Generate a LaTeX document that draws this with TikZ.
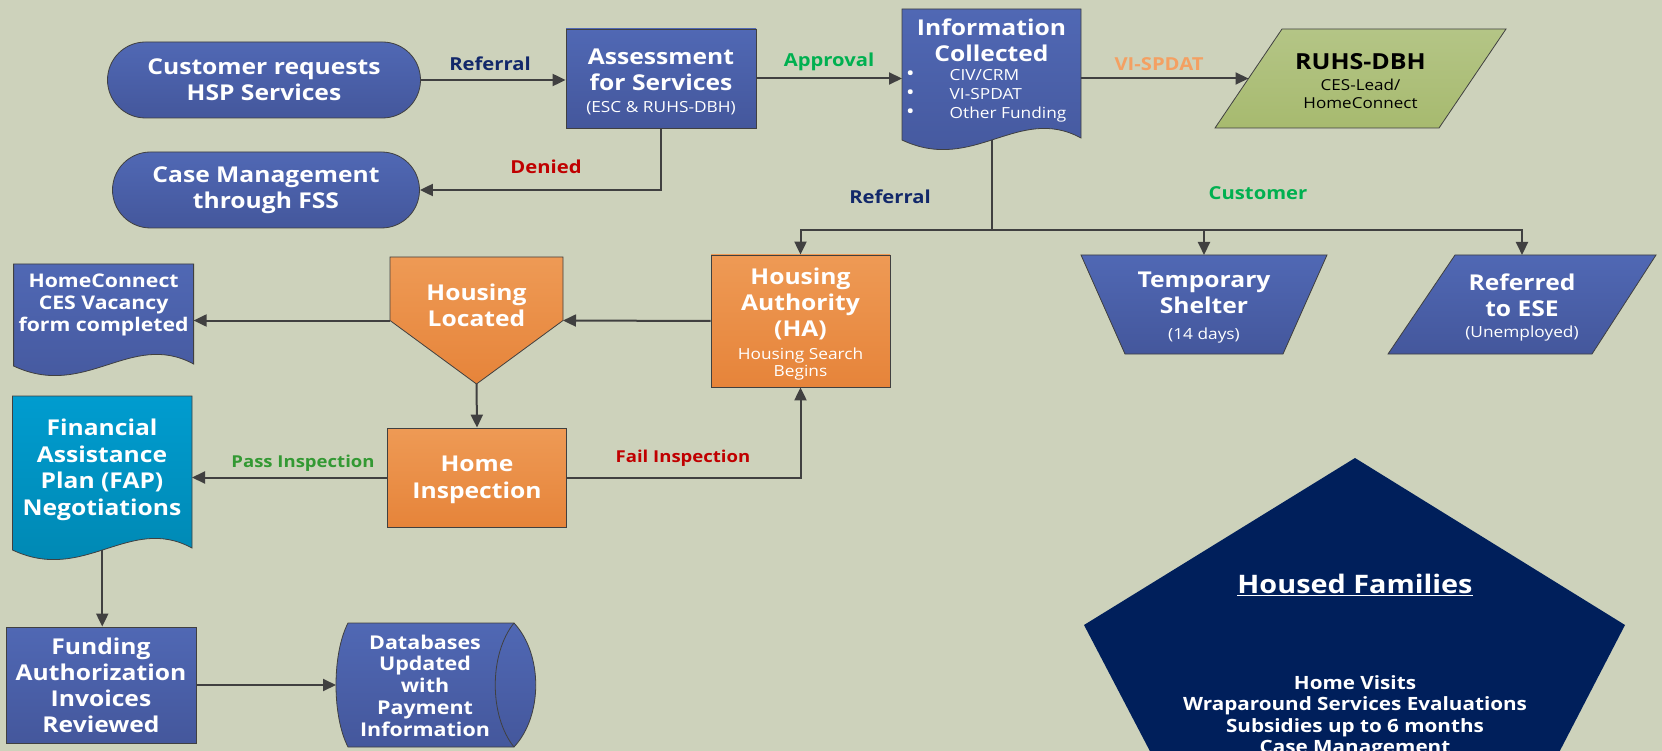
\documentclass[tikz,border=0pt]{standalone}
\usepackage{fontspec}
\setmainfont{Open Sans}[FakeStretch=1.13]
\usetikzlibrary{arrows.meta,calc}
\definecolor{bgc}{HTML}{CDD2BB}
\definecolor{blT}{HTML}{5068B4}
\definecolor{blB}{HTML}{44579C}
\definecolor{orT}{HTML}{EE9A55}
\definecolor{orB}{HTML}{E6843A}
\definecolor{grT}{HTML}{B4C586}
\definecolor{grB}{HTML}{A7BA6F}
\definecolor{cyT}{HTML}{009CCF}
\definecolor{cyB}{HTML}{0086B0}
\definecolor{navyc}{HTML}{001F5B}
\definecolor{linec}{HTML}{404040}
\definecolor{refc}{HTML}{12286A}
\definecolor{appc}{HTML}{00B050}
\definecolor{denc}{HTML}{C00000}
\definecolor{vic}{HTML}{F4A062}
\definecolor{passc}{HTML}{339933}
\newcommand\fbig{\fontsize{21.8}{26}\selectfont\bfseries}
\newcommand\fsub{\fontsize{15.3}{18}\selectfont\mdseries}
\newcommand\fmid{\fontsize{18.8}{22}\selectfont\bfseries}
\newcommand\flab{\fontsize{17.9}{21}\selectfont\bfseries}
\newcommand\fpass{\fontsize{16.4}{20}\selectfont\bfseries}
\newcommand\bigbul{\raisebox{0pt}[0pt][0pt]{\fontsize{20}{18}\selectfont\textbullet}}
\newcommand\dn[1]{\rule{0pt}{#1pt}}
\begin{document}
\begin{tikzpicture}[x=1pt,y=-1pt,
 outl/.style={draw=linec, line width=0.8pt},
 bluef/.style={top color=blT, bottom color=blB},
 oranf/.style={top color=orT, bottom color=orB},
 box/.style={outl, text=white, font=\fbig, align=center, inner sep=0pt},
 stadium/.style={box, bluef, rounded corners=38pt, minimum height=76pt},
 gnode/.style={inner sep=0pt, outer sep=0pt},
 wtxt/.style={text=white, font=\fbig, align=center, inner sep=0pt},
 lab/.style={font=\flab, inner sep=0pt},
 conn/.style={draw=linec, line width=2pt, -{Triangle[length=13pt,width=12pt]}},
 plainc/.style={draw=linec, line width=2pt},
 docwave/.style={insert path={(#1.north west) -- (#1.north east) -- ($(#1.south east)+(0,-2)$) .. controls ($(#1.south east)!0.35!(#1.south west)+(0,-36)$) and ($(#1.south west)!0.4!(#1.south east)+(0,34)$) .. (#1.south west) -- cycle}}
]
\fill[bgc] (0,0) rectangle (1662,751);
\useasboundingbox (0,0) rectangle (1662,751);

% top row
\node[stadium, minimum width=313pt] (cust) at (264,80) {Customer requests\\HSP Services};
\node[stadium, minimum width=307pt] (cm) at (266,190) {Case Management\\through FSS};
\node[box, bluef, minimum width=190pt, minimum height=99pt] (ass) at (661,78.5) {\dn{22.6}Assessment\\for Services\\[-4pt]{\fsub (ESC \& RUHS-DBH)}};

\node[gnode, minimum width=179pt, minimum height=131pt] (info) at (991.5,74.5) {};
\path[outl, bluef, docwave=info];
\node[wtxt] (infoT) at (991.5,40.5) {Information\\Collected};
\node[wtxt, font=\fontsize{15.3}{19}\selectfont\mdseries, align=left, anchor=west] (infoL) at (906,96) {\bigbul\hspace{35pt}CIV/CRM\\\bigbul\hspace{35pt}VI-SPDAT\\\bigbul\hspace{35pt}Other Funding};

\node[gnode, minimum width=291pt, minimum height=99pt] (ruhs) at (1360.5,78.5) {};
\path[outl, top color=grT, bottom color=grB] ($(ruhs.north west)+(67,0)$) -- (ruhs.north east) -- ($(ruhs.south east)+(-67,0)$) -- (ruhs.south west) -- cycle;
\node[inner sep=0pt, align=center, font=\fontsize{15.1}{18}\selectfont, text=black] (ruhsT) at (1360.5,81) {{\fontsize{22.1}{26}\selectfont\bfseries RUHS-DBH}\\[3pt]CES-Lead/\\HomeConnect};
\coordinate (ruhsW) at ($(ruhs.west)+(33.5,0)$);

% middle row
\node[gnode, minimum width=246pt, minimum height=99pt] (ts) at (1204,304.5) {};
\path[outl, bluef] (ts.north west) -- (ts.north east) -- ($(ts.south east)+(-44,0)$) -- ($(ts.south west)+(44,0)$) -- cycle;
\node[wtxt] (tsT) at (1204,308) {Temporary\\Shelter\\[0pt]{\fsub (14 days)}};

\node[gnode, minimum width=268pt, minimum height=99pt] (re) at (1522,304.5) {};
\path[outl, bluef] ($(re.north west)+(67,0)$) -- (re.north east) -- ($(re.south east)+(-64,0)$) -- (re.south west) -- cycle;
\node[wtxt] (reT) at (1522,307.5) {Referred\\to ESE\\[-5pt]{\fsub (Unemployed)}};

\node[box, oranf, minimum width=179pt, minimum height=132pt] (ha) at (800.5,321) {\dn{22}Housing\\Authority\\(HA)\\[-3pt]{\fsub Housing Search}\\[-9pt]{\fsub Begins}};

\node[gnode, minimum width=173pt, minimum height=127pt] (hl) at (476.5,320.5) {};
\path[outl, oranf] (hl.north west) -- (hl.north east) -- (hl.east) -- (hl.south) -- (hl.west) -- cycle;
\node[wtxt] (hlT) at (476.5,305) {Housing\\Located};

\node[gnode, minimum width=180pt, minimum height=102pt] (hc) at (103.6,315) {};
\path[outl, bluef, docwave=hc];
\node[wtxt, font=\fmid] (hcT) at (103.6,305) {HomeConnect\\CES Vacancy\\form completed};

\node[box, oranf, minimum width=178.5pt, minimum height=99pt, font=\fontsize{21.8}{27}\selectfont\bfseries] (hi) at (477,477.5) {\dn{21}Home\\Inspection};

\node[gnode, minimum width=179.5pt, minimum height=154pt] (fap) at (102.25,473) {};
\path[outl, top color=cyT, bottom color=cyB, docwave=fap];
\node[wtxt, font=\fontsize{21.8}{26.5}\selectfont\bfseries] (fapT) at (102,470) {Financial\\Assistance\\Plan (FAP)\\Negotiations};

% bottom
\node[box, bluef, minimum width=190pt, minimum height=116pt, font=\fontsize{21.8}{26}\selectfont\bfseries] (fund) at (101,685) {Funding\\Authorization\\Invoices\\Reviewed};

\node[gnode, minimum width=200pt, minimum height=124pt] (db) at (436,685) {};
\path[outl, bluef, shift={(db.center)}] (-88,-62) -- (78,-62) .. controls (107,-31) and (107,31) .. (78,62) -- (-88,62) .. controls (-104,31) and (-104,-31) .. (-88,-62) -- cycle;
\draw[outl, shift={(db.center)}] (78,-62) .. controls (53,-31) and (53,31) .. (78,62);
\node[wtxt, font=\fontsize{19}{21.8}\selectfont\bfseries] (dbT) at (425,685.5) {Databases\\Updated\\with\\Payment\\Information};

\begin{scope}
\clip (0,0) rectangle (1662,751);
\fill[navyc] (1355,458) -- (1625,625) -- (1522,824) -- (1188,824) -- (1084,625) -- cycle;
\end{scope}
\node[wtxt, font=\fontsize{25.5}{30}\selectfont\bfseries] (hfT) at (1355,585) {\underline{Housed Families}};
\node[wtxt, font=\fontsize{18.3}{21.5}\selectfont\bfseries] (hfL) at (1355,716.5) {Home Visits\\Wraparound Services Evaluations\\Subsidies up to 6 months\\Case Management};

% labels
\node[lab, text=refc] (l1) at (490,64) {Referral};
\node[lab, text=appc] (l2) at (829,62) {Approval};
\node[lab, text=denc] (l3) at (546,166.5) {Denied};
\node[lab, text=vic] (l4) at (1159,64) {VI-SPDAT};
\node[lab, text=refc] (l5) at (890,197) {Referral};
\node[lab, text=appc] (l6) at (1258,193) {Customer};
\node[lab, text=passc, font=\fpass] (l7) at (303,463) {Pass Inspection};
\node[lab, text=denc, font=\fpass] (l8) at (683,458) {Fail Inspection};

% connectors
\coordinate (br) at (991.5,230);
\draw[conn] (cust.east) -- (cust.east -| ass.west);
\draw[conn] (ass.east) -- (ass.east -| info.west);
\draw[conn] (ass.south) |- (cm.east);
\draw[conn] (ruhsW -| info.east) -- (ruhsW);
\draw[plainc] (info.south) -- (br);
\draw[conn] (br) -| (ha.north);
\draw[conn] (br) -| (ts.north);
\draw[conn] (br) -| (re.north);
\draw[conn] (ha.west) -- (hl.east);
\draw[conn] (hl.west) -- (hl.west -| hc.east);
\draw[conn] (hl.south) -- (hi.north);
\draw[conn] (hi.west) -- (hi.west -| fap.east);
\draw[conn] (hi.east) -| (ha.south);
\draw[conn] (fap.south) -- (fap.south |- fund.north);
\draw[conn] (fund.east) -- (db.west);
\end{tikzpicture}
\end{document}
